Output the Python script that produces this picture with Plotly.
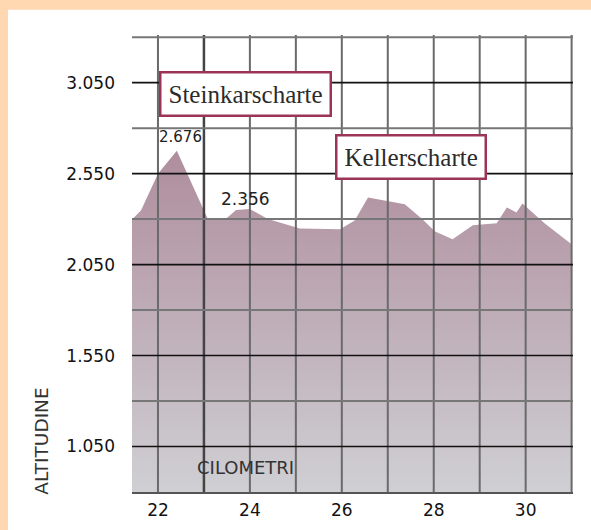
import plotly.graph_objects as go

# profilo altimetrico (km, m)
km = [21.435, 21.63, 22.0, 22.41, 23.09, 23.46, 23.70, 24.0, 24.39, 25.09,
      25.96, 26.28, 26.57, 27.37, 27.76, 28.02, 28.41, 28.85, 29.37, 29.59,
      29.80, 29.93, 30.41, 31.0]
altitude = [2298, 2348, 2550, 2676, 2298, 2298, 2350, 2356, 2300, 2249,
            2244, 2293, 2419, 2381, 2298, 2233, 2189, 2266, 2277, 2364,
            2337, 2386, 2277, 2162]

peak_labels = [3, 7]  # indexes of labelled summits
passes = ['Steinkarscharte', 'Kellerscharte']
pass_km = [23.913, 27.51]
pass_alt = [2986, 2640]

y_ticks = [1050, 1550, 2050, 2550, 3050]
x_ticks = [22, 24, 26, 28, 30]
grid_km = [22, 23, 24, 25, 26, 27, 28, 29, 30, 31]
grid_alt = [1050, 1300, 1550, 1800, 2050, 2300, 2550, 2800, 3050, 3300]

fig = go.Figure()
fig.add_trace(go.Scatter(
    x=km, y=altitude,
    mode='none',
    fill='tozeroy',
    fillgradient=dict(type='vertical',
                      colorscale=[[0, '#CFCFD4'], [1, '#AF8D9C']],
                      start=800, stop=2676),
    hoverinfo='skip',
    showlegend=False,
))

shapes = []
# white sheet on peach frame
shapes.append(dict(type='rect', xref='paper', yref='paper',
                   x0=-0.2812, x1=1.1, y0=-0.12, y1=1.055,
                   fillcolor='white', line_width=0, layer='below'))
for g in grid_km:
    shapes.append(dict(type='line', xref='x', yref='paper', x0=g, x1=g,
                       y0=0, y1=1, layer='above',
                       line=dict(color='#444' if g == 23 else '#6a6a6a',
                                 width=2.5 if g == 23 else 2)))
for g in grid_alt:
    black = g in y_ticks
    shapes.append(dict(type='line', xref='paper', yref='y', x0=0, x1=1,
                       y0=g, y1=g, layer='above',
                       line=dict(color='#111' if black else '#777',
                                 width=1.6 if black else 2)))

annotations = []
for name, xk, ya in zip(passes, pass_km, pass_alt):
    annotations.append(dict(
        x=xk, y=ya, xref='x', yref='y', text=name, showarrow=False,
        font=dict(family='Liberation Serif', size=25, color='#2b2b2b'),
        bgcolor='white', bordercolor='#9B3458', borderwidth=2.5, borderpad=7,
    ))
for i, (dx, dy, size) in zip(peak_labels, [(4, 14, 15), (-4, 10, 17)]):
    annotations.append(dict(
        x=km[i], y=altitude[i], xref='x', yref='y',
        text=f'{altitude[i]:,}'.replace(',', '.'), showarrow=False,
        xshift=dx, yshift=dy,
        font=dict(family='DejaVu Sans', size=size, color='#222'),
    ))
annotations.append(dict(x=0.257, y=0.053, xref='paper', yref='paper',
                        xanchor='center', yanchor='middle',
                        text='CILOMETRI', showarrow=False,
                        font=dict(family='DejaVu Sans', size=18, color='#333')))
annotations.append(dict(x=-0.2045, y=0.112, xref='paper', yref='paper',
                        xanchor='center', yanchor='middle',
                        text='ALTITUDINE', showarrow=False, textangle=-90,
                        font=dict(family='DejaVu Sans', size=18.5, color='#333')))

fig.update_layout(
    width=591, height=530,
    margin=dict(l=132, r=18, t=35, b=38),
    paper_bgcolor='#FFD8B2',
    plot_bgcolor='white',
    separators=',.',
    font=dict(family='DejaVu Sans', size=17, color='#111'),
    shapes=shapes,
    annotations=annotations,
    showlegend=False,
)
fig.update_xaxes(
    range=[21.435, 31.03], tickvals=x_ticks, showgrid=False, zeroline=False,
    showline=True, linecolor='#555', linewidth=2, ticks='',
    ticklabelstandoff=2, automargin=False, fixedrange=True,
)
fig.update_yaxes(
    range=[800, 3312], tickvals=y_ticks, tickformat=',d', showgrid=False,
    zeroline=False, ticks='', ticklabelstandoff=16, automargin=False,
    fixedrange=True,
)

# page without the default body margin, so the frame sits at the window edge
fig.write_html("out.html", config={'displayModeBar': False},
               post_script="document.body.style.margin='0';")
